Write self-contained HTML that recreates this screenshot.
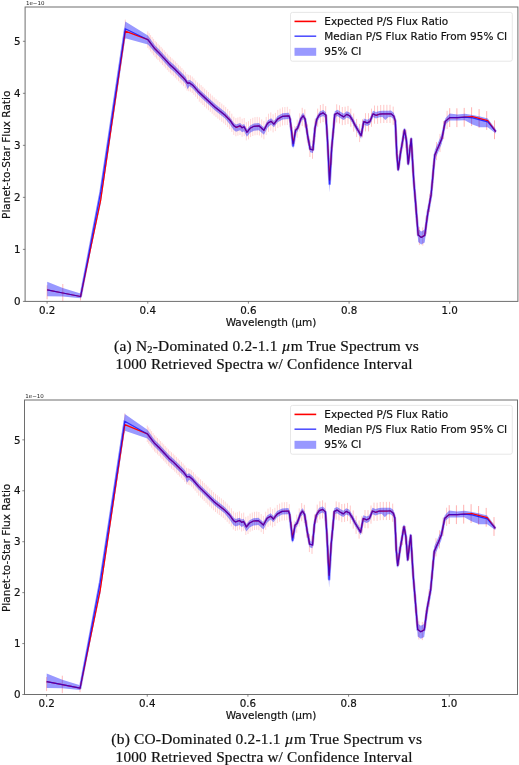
<!DOCTYPE html>
<html><head><meta charset="utf-8"><title>Figure</title>
<style>
html,body{margin:0;padding:0;background:#fff}
svg{display:block}
.tk{stroke:#111;stroke-width:0.18px;font:10.3px "DejaVu Sans",sans-serif;fill:#111}
.lb{stroke:#111;stroke-width:0.18px;font:10.5px "DejaVu Sans",sans-serif;fill:#111}
.lg{stroke:#111;stroke-width:0.18px;font:10.48px "DejaVu Sans",sans-serif;fill:#111}
.off{font:5.5px "DejaVu Sans",sans-serif;fill:#222}
.cap{font:14px "Liberation Serif",serif;fill:#111;letter-spacing:0.2px;word-spacing:0px;stroke:#111;stroke-width:0.2px}
</style></head><body>
<svg width="519" height="765" viewBox="0 0 519 765">
<rect width="519" height="765" fill="#fff"/>
<clipPath id="c1"><rect x="25.1" y="7.0" width="492.79999999999995" height="294.4"/></clipPath>
<g clip-path="url(#c1)" transform="translate(0.1,0)">
<path d="M47.0 285.3V299.3M62.7 284.0V301.5M80.4 294.0V300.5" stroke="#ff0000" stroke-opacity="0.3" stroke-width="0.9" fill="none"/>
<path d="M100.6 195.8V203.8M125.2 19.6V39.1M147.7 31.4V47.8M149.1 33.2V49.6M150.5 35.1V51.5M152.0 37.0V53.4M153.5 38.9V55.3M155.0 40.8V57.2M156.4 42.2V58.6M157.9 43.7V60.1M159.5 45.3V61.7M161.0 46.9V63.3M162.5 48.6V65.0M164.1 50.2V66.6M165.6 51.9V68.3M167.2 53.7V70.1M168.8 55.4V71.8M170.3 56.9V73.3M171.9 58.4V74.8M173.6 59.8V76.2M175.2 61.4V77.8M176.8 63.1V79.5M178.5 64.8V81.2M180.1 66.4V82.8M181.8 68.1V84.5M183.5 69.8V86.2M185.2 71.8V88.2M186.9 74.2V90.6M188.6 74.8V91.2M190.3 75.3V91.7M192.1 76.6V93.0M193.8 78.4V94.8M195.6 80.4V96.8M197.4 82.4V98.8M199.2 83.5V101.7M201.0 85.1V103.3M202.8 86.8V105.0M204.6 88.6V106.8M206.5 90.3V108.5M208.3 92.0V110.2M210.2 93.7V111.9M212.1 95.5V113.7M214.0 97.3V115.5M215.9 98.9V117.1M217.8 100.5V118.7M219.7 102.0V120.2M221.7 103.6V121.8M223.7 105.2V123.4M225.6 106.9V125.1M227.6 108.9V127.1M229.6 110.9V129.1M231.7 113.7V131.9M233.7 116.7V134.9M235.8 118.1V136.3M237.8 117.5V135.7M239.9 116.8V135.0M242.0 118.7V136.9M244.1 118.0V136.2M246.2 122.2V140.4M248.4 121.2V139.4M250.5 118.9V137.1M252.7 117.8V136.0M254.9 117.1V135.3M257.1 116.9V135.1M259.3 117.3V135.5M261.6 119.3V137.5M263.8 121.1V139.3M266.1 116.9V135.1M268.4 113.7V131.9M270.7 112.4V130.6M273.0 114.2V132.4M275.3 112.9V131.1M277.7 109.9V128.1M280.0 108.6V126.8M282.4 107.3V125.5M284.8 107.0V125.2M287.2 106.8V125.0M289.7 109.1V127.3M292.1 127.2V145.4M294.6 125.9V144.1M297.1 119.6V137.8M299.6 113.3V131.5" stroke="#ff0000" stroke-opacity="0.2" stroke-width="0.85" fill="none"/>
<path d="M302.1 107.8V126.0M304.7 109.4V127.6M307.2 124.4V142.6M309.8 138.8V157.0M312.4 140.6V158.8M315.0 118.7V136.9M317.6 108.6V126.8M320.3 105.0V123.2M323.0 103.9V122.1M325.6 106.1V124.3M328.4 149.4V167.6M331.1 146.8V165.0M333.8 114.7V132.9M336.6 104.3V122.5M339.4 105.3V123.5M342.2 107.0V125.2M345.0 106.7V124.9M347.9 105.9V124.1M350.7 108.6V126.8M353.6 113.5V131.7M356.5 118.9V137.1M359.5 123.9V142.1M362.4 119.2V137.4M365.4 113.2V131.4M368.4 113.2V131.4M371.4 108.6V126.8M374.4 105.5V123.7M377.5 105.7V123.9M380.6 105.0V123.2M383.7 104.8V123.0M386.8 104.8V123.0M389.9 104.8V123.0M393.1 106.6V124.8M396.3 136.2V154.4M399.5 150.6V168.8M402.8 130.4V148.6M406.0 129.7V147.9M409.3 144.7V162.9M412.6 154.4V172.6M415.9 199.4V217.6M419.3 226.9V245.1M422.7 227.4V245.6M426.1 215.6V233.8M429.5 193.9V212.1M432.9 164.8V183.0M436.4 142.0V160.2M439.9 133.9V152.1M443.5 121.0V139.2M447.0 110.8V129.0" stroke="#ff0000" stroke-opacity="0.25" stroke-width="0.9" fill="none"/>
<path d="M449.6 108.2V127.0M456.8 108.3V127.1M464.1 107.9V126.7M471.5 107.3V126.1M479.0 109.1V127.9M486.6 111.1V129.9M494.4 120.4V139.2" stroke="#ff0000" stroke-opacity="0.33" stroke-width="0.95" fill="none"/>
<g opacity="0.4"><polygon points="47.1,281.8 62.7,288.0 80.5,293.5 100.6,185.9 125.2,21.5 147.8,35.5 154.8,45.3 159.6,50.1 164.5,55.4 169.3,60.7 174.1,65.0 178.9,69.9 183.7,74.7 185.7,77.1 187.4,80.7 189.5,79.7 192.6,82.0 198.9,89.1 205.0,94.8 215.0,104.1 225.0,112.1 230.0,117.5 233.8,123.0 236.0,124.5 240.0,123.0 242.0,125.0 244.0,124.0 246.8,129.5 250.0,125.5 253.8,123.5 258.8,123.0 263.8,127.5 267.5,120.5 271.0,118.3 273.8,121.1 277.5,116.1 282.5,113.3 288.8,112.8 290.0,116.1 293.0,142.8 295.5,127.3 297.5,125.3 301.0,115.3 303.0,112.8 305.0,116.1 307.5,132.3 310.0,146.1 312.9,146.8 314.8,125.8 316.7,116.2 319.6,111.4 323.1,109.9 325.8,112.3 327.3,136.5 329.5,182.0 331.6,144.9 334.7,111.2 337.4,109.8 340.8,112.1 343.7,113.7 346.6,111.2 349.5,112.5 352.4,117.0 355.3,122.7 358.2,127.6 361.0,132.4 363.7,118.4 367.1,119.7 369.8,118.4 372.9,110.7 375.9,112.1 379.4,111.0 382.3,110.7 385.2,110.7 388.1,110.7 390.9,110.6 393.8,113.1 395.2,118.6 396.7,151.4 398.1,167.1 400.6,149.5 404.4,127.4 406.3,137.8 408.1,161.3 411.1,136.3 413.6,177.4 418.1,229.1 421.2,231.4 424.6,229.4 427.8,209.3 431.0,191.9 434.7,150.0 438.5,141.3 441.7,133.8 445.2,118.4 449.6,113.6 457.5,114.4 464.7,113.8 472.4,114.9 479.9,116.5 487.6,118.5 495.7,129.3 495.7,133.4 487.6,127.3 479.9,127.3 472.4,124.6 464.7,120.3 457.5,120.5 449.6,120.4 445.2,124.4 441.7,143.8 438.5,151.3 434.7,160.0 431.0,200.9 427.8,218.3 424.6,242.4 421.2,244.4 418.1,242.1 413.6,182.9 411.1,141.8 408.1,166.8 406.3,143.3 404.4,132.9 400.6,155.0 398.1,172.6 396.7,156.9 395.2,124.1 393.8,119.6 390.9,117.1 388.1,117.2 385.2,120.1 382.3,117.0 379.4,117.3 375.9,118.4 372.9,117.0 369.8,124.7 367.1,126.0 363.7,124.7 361.0,138.7 358.2,133.9 355.3,129.0 352.4,123.3 349.5,118.8 346.6,117.5 343.7,120.0 340.8,118.4 337.4,116.1 334.7,117.5 331.6,151.2 329.5,192.5 327.3,147.0 325.8,118.5 323.1,116.1 319.6,117.6 316.7,122.4 314.8,132.0 312.9,153.0 310.0,152.3 307.5,138.5 305.0,122.3 303.0,119.0 301.0,121.5 297.5,131.5 295.5,133.5 293.0,149.0 290.0,122.3 288.8,119.0 282.5,119.5 277.5,122.3 273.8,127.3 271.0,124.5 267.5,127.8 263.8,134.8 258.8,130.3 253.8,130.8 250.0,132.8 246.8,136.8 244.0,131.3 242.0,132.3 240.0,130.3 236.0,131.8 233.8,130.3 230.0,124.8 225.0,118.5 215.0,110.5 205.0,101.2 198.9,95.5 192.6,88.4 189.5,86.1 187.4,89.2 185.7,84.1 183.7,81.7 178.9,76.9 174.1,72.0 169.3,67.7 164.5,62.4 159.6,57.1 154.8,52.3 147.8,44.4 125.2,38.3 100.6,203.9 80.5,298.2 62.7,296.5 47.1,296.3" fill="#0000ff"/><polyline points="47.1,289.8 62.7,293.0 80.5,296.5 100.6,191.9 125.2,28.8 147.8,39.7 154.8,48.8 159.6,53.6 164.5,58.9 169.3,64.2 174.1,68.5 178.9,73.4 183.7,78.2 185.7,80.6 187.4,83.2 189.5,82.9 192.6,85.2 198.9,92.3 205.0,98.0 215.0,107.3 225.0,115.3 230.0,120.3 233.8,125.8 236.0,127.3 240.0,125.8 242.0,127.8 244.0,126.8 246.8,132.3 250.0,128.3 253.8,126.3 258.8,125.8 263.8,130.3 267.5,123.3 271.0,121.3 273.8,124.1 277.5,119.1 282.5,116.3 288.8,115.8 290.0,119.1 293.0,145.8 295.5,130.3 297.5,128.3 301.0,118.3 303.0,115.8 305.0,119.1 307.5,135.3 310.0,149.1 312.9,149.8 314.8,128.8 316.7,119.2 319.6,114.4 323.1,112.9 325.8,115.3 327.3,138.5 329.5,184.0 331.6,148.1 334.7,114.4 337.4,113.0 340.8,115.3 343.7,116.9 346.6,114.4 349.5,115.7 352.4,120.2 355.3,125.9 358.2,130.8 361.0,135.6 363.7,121.6 367.1,122.9 369.8,121.6 372.9,113.9 375.9,115.3 379.4,114.2 382.3,113.9 385.2,113.9 388.1,113.9 390.9,113.8 393.8,116.3 395.2,121.1 396.7,153.9 398.1,169.6 400.6,152.0 404.4,129.9 406.3,140.3 408.1,163.8 411.1,138.8 413.6,179.9 418.1,235.1 421.2,237.4 424.6,235.4 427.8,212.3 431.0,194.9 434.7,155.0 438.5,146.3 441.7,138.8 445.2,121.4 449.6,117.6 457.5,117.7 464.7,117.2 472.4,117.8 479.9,119.9 487.6,121.9 495.7,131.6" fill="none" stroke="#0000ff" stroke-width="2.7" stroke-linejoin="round"/></g>
<polyline points="47.1,289.8 62.7,293.0 80.5,296.5 100.6,199.9 125.2,31.1 147.8,39.7 154.8,48.8 159.6,53.6 164.5,58.9 169.3,64.2 174.1,68.5 178.9,73.4 183.7,78.2 185.7,80.6 187.4,83.2 189.5,82.9 192.6,85.2 198.9,92.3 205.0,98.0 215.0,107.3 225.0,115.3 230.0,120.3 233.8,125.8 236.0,127.3 240.0,125.8 242.0,127.8 244.0,126.8 246.8,132.3 250.0,128.3 253.8,126.3 258.8,125.8 263.8,130.3 267.5,123.3 271.0,121.3 273.8,124.1 277.5,119.1 282.5,116.3 288.8,115.8 290.0,119.1 293.0,143.3 295.5,130.3 297.5,128.3 301.0,118.3 303.0,115.8 305.0,119.1 307.5,135.3 310.0,149.1 312.9,149.8 314.8,128.8 316.7,119.2 319.6,114.4 323.1,112.9 325.8,115.3 327.3,138.5 329.5,180.0 331.6,148.1 334.7,114.4 337.4,113.0 340.8,115.3 343.7,116.9 346.6,114.4 349.5,115.7 352.4,120.2 355.3,125.9 358.2,130.8 361.0,135.6 363.7,121.6 367.1,122.9 369.8,121.6 372.9,113.9 375.9,115.3 379.4,114.2 382.3,113.9 385.2,113.9 388.1,113.9 390.9,113.8 393.8,116.3 395.2,121.1 396.7,153.9 398.1,169.6 400.6,152.0 404.4,129.9 406.3,140.3 408.1,163.8 411.1,138.8 413.6,179.9 418.1,235.1 421.2,237.4 424.6,235.4 427.8,212.3 431.0,194.9 434.7,155.0 438.5,146.3 441.7,138.8 445.2,121.4 449.6,117.6 457.5,117.7 464.7,117.2 472.4,116.6 479.9,118.7 487.6,120.7 495.7,131.6" fill="none" stroke="#ff0000" stroke-width="1.25" stroke-linejoin="round"/>
<polyline points="47.1,289.8 62.7,293.0 80.5,296.5 100.6,191.9 125.2,28.8 147.8,39.7 154.8,48.8 159.6,53.6 164.5,58.9 169.3,64.2 174.1,68.5 178.9,73.4 183.7,78.2 185.7,80.6 187.4,83.2 189.5,82.9 192.6,85.2 198.9,92.3 205.0,98.0 215.0,107.3 225.0,115.3 230.0,120.3 233.8,125.8 236.0,127.3 240.0,125.8 242.0,127.8 244.0,126.8 246.8,132.3 250.0,128.3 253.8,126.3 258.8,125.8 263.8,130.3 267.5,123.3 271.0,121.3 273.8,124.1 277.5,119.1 282.5,116.3 288.8,115.8 290.0,119.1 293.0,145.8 295.5,130.3 297.5,128.3 301.0,118.3 303.0,115.8 305.0,119.1 307.5,135.3 310.0,149.1 312.9,149.8 314.8,128.8 316.7,119.2 319.6,114.4 323.1,112.9 325.8,115.3 327.3,138.5 329.5,184.0 331.6,148.1 334.7,114.4 337.4,113.0 340.8,115.3 343.7,116.9 346.6,114.4 349.5,115.7 352.4,120.2 355.3,125.9 358.2,130.8 361.0,135.6 363.7,121.6 367.1,122.9 369.8,121.6 372.9,113.9 375.9,115.3 379.4,114.2 382.3,113.9 385.2,113.9 388.1,113.9 390.9,113.8 393.8,116.3 395.2,121.1 396.7,153.9 398.1,169.6 400.6,152.0 404.4,129.9 406.3,140.3 408.1,163.8 411.1,138.8 413.6,179.9 418.1,235.1 421.2,237.4 424.6,235.4 427.8,212.3 431.0,194.9 434.7,155.0 438.5,146.3 441.7,138.8 445.2,121.4 449.6,117.6 457.5,117.7 464.7,117.2 472.4,117.8 479.9,119.9 487.6,121.9 495.7,131.6" fill="none" stroke="#0000ff" stroke-opacity="0.72" stroke-width="1.2" stroke-linejoin="round"/>
</g>
<rect x="25.1" y="7.0" width="492.79999999999995" height="294.4" fill="none" stroke="#6e6e6e" stroke-width="1"/>
<path d="M25.1 301.40h-2.2M25.1 249.38h-2.2M25.1 197.36h-2.2M25.1 145.34h-2.2M25.1 93.32h-2.2M25.1 41.30h-2.2M47.10 301.4v2.2M147.76 301.4v2.2M248.42 301.4v2.2M349.08 301.4v2.2M449.74 301.4v2.2" stroke="#555" stroke-width="0.7" fill="none"/>
<text x="20.6" y="305.10" text-anchor="end" class="tk">0</text>
<text x="20.6" y="253.08" text-anchor="end" class="tk">1</text>
<text x="20.6" y="201.06" text-anchor="end" class="tk">2</text>
<text x="20.6" y="149.04" text-anchor="end" class="tk">3</text>
<text x="20.6" y="97.02" text-anchor="end" class="tk">4</text>
<text x="20.6" y="45.00" text-anchor="end" class="tk">5</text>
<text x="47.10" y="314.00" text-anchor="middle" class="tk">0.2</text>
<text x="147.76" y="314.00" text-anchor="middle" class="tk">0.4</text>
<text x="248.42" y="314.00" text-anchor="middle" class="tk">0.6</text>
<text x="349.08" y="314.00" text-anchor="middle" class="tk">0.8</text>
<text x="449.74" y="314.00" text-anchor="middle" class="tk">1.0</text>
<text x="25.9" y="5.00" class="off">1e−10</text>
<text x="271" y="326.00" text-anchor="middle" class="lb">Wavelength (µm)</text>
<text transform="translate(10.0,154.80) rotate(-90)" text-anchor="middle" class="lb">Planet-to-Star Flux Ratio</text>
<rect x="290.5" y="12.40" width="221.8" height="48.8" rx="2" fill="#fff" fill-opacity="0.8" stroke="#dcdcdc" stroke-width="0.7"/>
<path d="M294.5 21.40H316.2" stroke="#ff0000" stroke-width="1.6"/>
<path d="M294.5 36.20H316.2" stroke="#0000ff" stroke-opacity="0.72" stroke-width="1.5"/>
<rect x="294.5" y="47.80" width="21.7" height="8" fill="#0000ff" fill-opacity="0.4"/>
<text x="324.3" y="25.10" class="lg">Expected P/S Flux Ratio</text>
<text x="324.3" y="40.00" class="lg">Median P/S Flux Ratio From 95% CI</text>
<text x="324.3" y="54.90" class="lg">95% CI</text>
<clipPath id="c2"><rect x="24.5" y="400.0" width="493.0" height="294.5"/></clipPath>
<g clip-path="url(#c2)" transform="translate(-0.4,0)">
<path d="M47.0 677.1V691.1M62.7 675.7V693.2M80.4 685.7V692.2" stroke="#ff0000" stroke-opacity="0.3" stroke-width="0.9" fill="none"/>
<path d="M100.6 586.2V594.2M125.2 413.2V432.7M147.7 425.6V442.0M149.1 427.4V443.8M150.5 429.3V445.7M152.0 431.2V447.6M153.5 433.2V449.6M155.0 435.1V451.5M156.4 436.5V452.9M157.9 438.0V454.4M159.5 439.5V455.9M161.0 441.1V457.5M162.5 442.7V459.1M164.1 444.3V460.7M165.6 446.0V462.4M167.2 447.7V464.1M168.8 449.4V465.8M170.3 450.9V467.3M171.9 452.3V468.7M173.6 453.7V470.1M175.2 455.3V471.7M176.8 456.9V473.3M178.5 458.6V475.0M180.1 460.2V476.6M181.8 461.8V478.2M183.5 463.5V479.9M185.2 465.4V481.8M186.9 467.8V484.2M188.6 468.4V484.8M190.3 469.0V485.4M192.1 470.3V486.7M193.8 472.2V488.6M195.6 474.3V490.7M197.4 476.4V492.8M199.2 477.5V495.7M201.0 479.3V497.5M202.8 481.1V499.3M204.6 482.9V501.1M206.5 484.7V502.9M208.3 486.5V504.7M210.2 488.4V506.6M212.1 490.2V508.4M214.0 492.1V510.3M215.9 493.8V512.0M217.8 495.3V513.5M219.7 496.8V515.0M221.7 498.4V516.6M223.7 499.9V518.1M225.6 501.6V519.8M227.6 503.6V521.8M229.6 505.6V523.8M231.7 508.3V526.5M233.7 511.3V529.5M235.8 512.7V530.9M237.8 512.2V530.4M239.9 511.4V529.6M242.0 513.3V531.5M244.1 512.6V530.8M246.2 516.8V535.0M248.4 515.8V534.0M250.5 513.6V531.8M252.7 512.5V530.7M254.9 511.8V530.0M257.1 511.6V529.8M259.3 512.0V530.2M261.6 514.0V532.2M263.8 515.8V534.0M266.1 511.7V529.9M268.4 508.6V526.8M270.7 507.3V525.5M273.0 509.1V527.3M275.3 507.8V526.0M277.7 504.9V523.1M280.0 503.6V521.8M282.4 502.4V520.6M284.8 502.2V520.4M287.2 502.0V520.2M289.7 504.2V522.4M292.1 521.9V540.1M294.6 520.7V538.9M297.1 514.6V532.8M299.6 508.4V526.6" stroke="#ff0000" stroke-opacity="0.2" stroke-width="0.85" fill="none"/>
<path d="M302.1 503.1V521.3M304.7 504.8V523.0M307.2 519.6V537.8M309.8 533.9V552.1M312.4 535.7V553.9M315.0 514.4V532.6M317.6 504.6V522.8M320.3 501.3V519.5M323.0 500.3V518.5M325.6 502.6V520.8M328.4 545.1V563.3M331.1 542.8V561.0M333.8 511.5V529.7M336.6 501.4V519.6M339.4 502.3V520.5M342.2 504.0V522.2M345.0 503.7V521.9M347.9 502.9V521.1M350.7 505.5V523.7M353.6 510.4V528.6M356.5 515.7V533.9M359.5 520.5V538.7M362.4 515.9V534.1M365.4 510.0V528.2M368.4 510.1V528.3M371.4 505.5V523.7M374.4 502.6V520.8M377.5 502.7V520.9M380.6 502.0V520.2M383.7 501.9V520.1M386.8 501.9V520.1M389.9 501.8V520.0M393.1 503.6V521.8M396.3 532.6V550.8M399.5 546.6V564.8M402.8 526.9V545.1M406.0 526.2V544.4M409.3 540.9V559.1M412.6 550.4V568.6M415.9 594.5V612.7M419.3 621.3V639.5M422.7 621.9V640.1M426.1 610.4V628.6M429.5 589.1V607.3M432.9 560.6V578.8M436.4 538.2V556.4M439.9 530.3V548.5M443.5 517.7V535.9M447.0 507.7V525.9" stroke="#ff0000" stroke-opacity="0.25" stroke-width="0.9" fill="none"/>
<path d="M449.6 505.2V524.0M456.8 505.3V524.1M464.1 504.8V523.6M471.5 504.2V523.0M479.0 506.0V524.8M486.6 507.9V526.7M494.4 517.1V535.9" stroke="#ff0000" stroke-opacity="0.33" stroke-width="0.95" fill="none"/>
<g opacity="0.4"><polygon points="47.1,673.6 62.7,679.7 80.5,685.2 100.6,576.2 125.2,413.9 147.8,429.7 154.8,439.6 159.6,444.3 164.5,449.5 169.3,454.7 174.1,458.9 178.9,463.7 183.7,468.4 185.7,470.8 187.4,474.3 189.5,473.3 192.6,475.8 198.9,483.2 205.0,489.2 215.0,499.0 225.0,506.9 230.0,512.2 233.8,517.6 236.0,519.1 240.0,517.7 242.0,519.6 244.0,518.7 246.8,524.1 250.0,520.2 253.8,518.2 258.8,517.8 263.8,522.2 267.5,515.4 271.0,513.2 273.8,516.0 277.5,511.1 282.5,508.4 288.8,508.0 290.0,511.2 293.0,537.4 295.5,522.2 297.5,520.3 301.0,510.5 303.0,508.2 305.0,511.5 307.5,527.5 310.0,541.1 312.9,542.0 314.8,521.5 316.7,512.2 319.6,507.7 323.1,506.4 325.8,508.9 327.3,532.7 329.5,577.3 331.6,541.1 334.7,508.2 337.4,506.9 340.8,509.1 343.7,510.7 346.6,508.2 349.5,509.5 352.4,513.9 355.3,519.5 358.2,524.3 361.0,529.0 363.7,515.3 367.1,516.6 369.8,515.3 372.9,507.8 375.9,509.1 379.4,508.0 382.3,507.8 385.2,507.8 388.1,507.8 390.9,507.7 393.8,510.1 395.2,515.5 396.7,547.6 398.1,563.0 400.6,545.8 404.4,524.1 406.3,534.3 408.1,557.3 411.1,532.8 413.6,573.0 418.1,623.6 421.2,625.8 424.6,623.9 427.8,604.2 431.0,587.2 434.7,546.2 438.5,537.7 441.7,530.3 445.2,515.3 449.6,510.6 457.5,511.4 464.7,510.8 472.4,511.9 479.9,513.4 487.6,515.4 495.7,526.0 495.7,530.1 487.6,524.2 479.9,524.2 472.4,521.6 464.7,517.3 457.5,517.5 449.6,517.4 445.2,521.3 441.7,540.3 438.5,547.7 434.7,556.2 431.0,596.2 427.8,613.2 424.6,636.9 421.2,638.8 418.1,636.6 413.6,578.5 411.1,538.3 408.1,562.8 406.3,539.8 404.4,529.6 400.6,551.3 398.1,568.5 396.7,553.1 395.2,521.0 393.8,516.6 390.9,514.2 388.1,514.3 385.2,517.2 382.3,514.1 379.4,514.3 375.9,515.4 372.9,514.1 369.8,521.6 367.1,522.9 363.7,521.6 361.0,535.3 358.2,530.6 355.3,525.8 352.4,520.2 349.5,515.8 346.6,514.5 343.7,517.0 340.8,515.4 337.4,513.2 334.7,514.5 331.6,547.4 329.5,587.8 327.3,543.2 325.8,515.1 323.1,512.6 319.6,513.9 316.7,518.4 314.8,527.7 312.9,548.2 310.0,547.3 307.5,533.7 305.0,517.7 303.0,514.4 301.0,516.7 297.5,526.5 295.5,528.4 293.0,543.6 290.0,517.4 288.8,514.2 282.5,514.6 277.5,517.3 273.8,522.2 271.0,519.4 267.5,522.7 263.8,529.5 258.8,525.1 253.8,525.5 250.0,527.5 246.8,531.4 244.0,526.0 242.0,526.9 240.0,525.0 236.0,526.4 233.8,524.9 230.0,519.5 225.0,513.3 215.0,505.4 205.0,495.6 198.9,489.6 192.6,482.2 189.5,479.7 187.4,482.8 185.7,477.8 183.7,475.4 178.9,470.7 174.1,465.9 169.3,461.7 164.5,456.5 159.6,451.3 154.8,446.6 147.8,438.6 125.2,430.7 100.6,594.2 80.5,689.9 62.7,688.2 47.1,688.1" fill="#0000ff"/><polyline points="47.1,681.6 62.7,684.7 80.5,688.2 100.6,582.2 125.2,421.2 147.8,433.9 154.8,443.1 159.6,447.8 164.5,453.0 169.3,458.2 174.1,462.4 178.9,467.2 183.7,471.9 185.7,474.3 187.4,476.8 189.5,476.5 192.6,479.0 198.9,486.4 205.0,492.4 215.0,502.2 225.0,510.1 230.0,515.0 233.8,520.4 236.0,521.9 240.0,520.5 242.0,522.4 244.0,521.5 246.8,526.9 250.0,523.0 253.8,521.0 258.8,520.6 263.8,525.0 267.5,518.2 271.0,516.2 273.8,519.0 277.5,514.1 282.5,511.4 288.8,511.0 290.0,514.2 293.0,540.4 295.5,525.2 297.5,523.3 301.0,513.5 303.0,511.2 305.0,514.5 307.5,530.5 310.0,544.1 312.9,545.0 314.8,524.5 316.7,515.2 319.6,510.7 323.1,509.4 325.8,511.9 327.3,534.7 329.5,579.3 331.6,544.3 334.7,511.4 337.4,510.1 340.8,512.3 343.7,513.9 346.6,511.4 349.5,512.7 352.4,517.1 355.3,522.7 358.2,527.5 361.0,532.2 363.7,518.5 367.1,519.8 369.8,518.5 372.9,511.0 375.9,512.3 379.4,511.2 382.3,511.0 385.2,511.0 388.1,511.0 390.9,510.9 393.8,513.3 395.2,518.0 396.7,550.1 398.1,565.5 400.6,548.3 404.4,526.6 406.3,536.8 408.1,559.8 411.1,535.3 413.6,575.5 418.1,629.6 421.2,631.8 424.6,629.9 427.8,607.2 431.0,590.2 434.7,551.2 438.5,542.7 441.7,535.3 445.2,518.3 449.6,514.6 457.5,514.7 464.7,514.2 472.4,514.8 479.9,516.8 487.6,518.8 495.7,528.3" fill="none" stroke="#0000ff" stroke-width="2.7" stroke-linejoin="round"/></g>
<polyline points="47.1,681.6 62.7,684.7 80.5,688.2 100.6,590.2 125.2,424.7 147.8,433.9 154.8,443.1 159.6,447.8 164.5,453.0 169.3,458.2 174.1,462.4 178.9,467.2 183.7,471.9 185.7,474.3 187.4,476.8 189.5,476.5 192.6,479.0 198.9,486.4 205.0,492.4 215.0,502.2 225.0,510.1 230.0,515.0 233.8,520.4 236.0,521.9 240.0,520.5 242.0,522.4 244.0,521.5 246.8,526.9 250.0,523.0 253.8,521.0 258.8,520.6 263.8,525.0 267.5,518.2 271.0,516.2 273.8,519.0 277.5,514.1 282.5,511.4 288.8,511.0 290.0,514.2 293.0,537.9 295.5,525.2 297.5,523.3 301.0,513.5 303.0,511.2 305.0,514.5 307.5,530.5 310.0,544.1 312.9,545.0 314.8,524.5 316.7,515.2 319.6,510.7 323.1,509.4 325.8,511.9 327.3,534.7 329.5,575.3 331.6,544.3 334.7,511.4 337.4,510.1 340.8,512.3 343.7,513.9 346.6,511.4 349.5,512.7 352.4,517.1 355.3,522.7 358.2,527.5 361.0,532.2 363.7,518.5 367.1,519.8 369.8,518.5 372.9,511.0 375.9,512.3 379.4,511.2 382.3,511.0 385.2,511.0 388.1,511.0 390.9,510.9 393.8,513.3 395.2,518.0 396.7,550.1 398.1,565.5 400.6,548.3 404.4,526.6 406.3,536.8 408.1,559.8 411.1,535.3 413.6,575.5 418.1,629.6 421.2,631.8 424.6,629.9 427.8,607.2 431.0,590.2 434.7,551.2 438.5,542.7 441.7,535.3 445.2,518.3 449.6,514.6 457.5,514.7 464.7,514.2 472.4,513.6 479.9,515.6 487.6,517.6 495.7,528.3" fill="none" stroke="#ff0000" stroke-width="1.25" stroke-linejoin="round"/>
<polyline points="47.1,681.6 62.7,684.7 80.5,688.2 100.6,582.2 125.2,421.2 147.8,433.9 154.8,443.1 159.6,447.8 164.5,453.0 169.3,458.2 174.1,462.4 178.9,467.2 183.7,471.9 185.7,474.3 187.4,476.8 189.5,476.5 192.6,479.0 198.9,486.4 205.0,492.4 215.0,502.2 225.0,510.1 230.0,515.0 233.8,520.4 236.0,521.9 240.0,520.5 242.0,522.4 244.0,521.5 246.8,526.9 250.0,523.0 253.8,521.0 258.8,520.6 263.8,525.0 267.5,518.2 271.0,516.2 273.8,519.0 277.5,514.1 282.5,511.4 288.8,511.0 290.0,514.2 293.0,540.4 295.5,525.2 297.5,523.3 301.0,513.5 303.0,511.2 305.0,514.5 307.5,530.5 310.0,544.1 312.9,545.0 314.8,524.5 316.7,515.2 319.6,510.7 323.1,509.4 325.8,511.9 327.3,534.7 329.5,579.3 331.6,544.3 334.7,511.4 337.4,510.1 340.8,512.3 343.7,513.9 346.6,511.4 349.5,512.7 352.4,517.1 355.3,522.7 358.2,527.5 361.0,532.2 363.7,518.5 367.1,519.8 369.8,518.5 372.9,511.0 375.9,512.3 379.4,511.2 382.3,511.0 385.2,511.0 388.1,511.0 390.9,510.9 393.8,513.3 395.2,518.0 396.7,550.1 398.1,565.5 400.6,548.3 404.4,526.6 406.3,536.8 408.1,559.8 411.1,535.3 413.6,575.5 418.1,629.6 421.2,631.8 424.6,629.9 427.8,607.2 431.0,590.2 434.7,551.2 438.5,542.7 441.7,535.3 445.2,518.3 449.6,514.6 457.5,514.7 464.7,514.2 472.4,514.8 479.9,516.8 487.6,518.8 495.7,528.3" fill="none" stroke="#0000ff" stroke-opacity="0.72" stroke-width="1.2" stroke-linejoin="round"/>
</g>
<rect x="24.5" y="400.0" width="493.0" height="294.5" fill="none" stroke="#6e6e6e" stroke-width="1"/>
<path d="M24.5 694.50h-2.2M24.5 643.57h-2.2M24.5 592.64h-2.2M24.5 541.71h-2.2M24.5 490.78h-2.2M24.5 439.85h-2.2M46.60 694.5v2.2M147.26 694.5v2.2M247.92 694.5v2.2M348.58 694.5v2.2M449.24 694.5v2.2" stroke="#555" stroke-width="0.7" fill="none"/>
<text x="20.6" y="698.20" text-anchor="end" class="tk">0</text>
<text x="20.6" y="647.27" text-anchor="end" class="tk">1</text>
<text x="20.6" y="596.34" text-anchor="end" class="tk">2</text>
<text x="20.6" y="545.41" text-anchor="end" class="tk">3</text>
<text x="20.6" y="494.48" text-anchor="end" class="tk">4</text>
<text x="20.6" y="443.55" text-anchor="end" class="tk">5</text>
<text x="46.60" y="707.10" text-anchor="middle" class="tk">0.2</text>
<text x="147.26" y="707.10" text-anchor="middle" class="tk">0.4</text>
<text x="247.92" y="707.10" text-anchor="middle" class="tk">0.6</text>
<text x="348.58" y="707.10" text-anchor="middle" class="tk">0.8</text>
<text x="449.24" y="707.10" text-anchor="middle" class="tk">1.0</text>
<text x="25.3" y="398.00" class="off">1e−10</text>
<text x="271" y="719.10" text-anchor="middle" class="lb">Wavelength (µm)</text>
<text transform="translate(10.0,547.85) rotate(-90)" text-anchor="middle" class="lb">Planet-to-Star Flux Ratio</text>
<rect x="290.5" y="405.40" width="221.8" height="48.8" rx="2" fill="#fff" fill-opacity="0.8" stroke="#dcdcdc" stroke-width="0.7"/>
<path d="M294.5 414.40H316.2" stroke="#ff0000" stroke-width="1.6"/>
<path d="M294.5 429.20H316.2" stroke="#0000ff" stroke-opacity="0.72" stroke-width="1.5"/>
<rect x="294.5" y="440.80" width="21.7" height="8" fill="#0000ff" fill-opacity="0.4"/>
<text x="324.3" y="418.10" class="lg">Expected P/S Flux Ratio</text>
<text x="324.3" y="433.00" class="lg">Median P/S Flux Ratio From 95% CI</text>
<text x="324.3" y="447.90" class="lg">95% CI</text>
<g transform="translate(266.6,351.2) scale(1.10,1)"><text x="0" y="0" text-anchor="middle" class="cap" id="cap1a">(a) N<tspan dy="2.2" font-size="9.5">2</tspan><tspan dy="-2.2">-Dominated 0.2-1.1 </tspan><tspan font-style="italic">µ</tspan>m True Spectrum vs</text></g>
<g transform="translate(264.1,368.5) scale(1.089,1)"><text x="0" y="0" text-anchor="middle" class="cap" id="cap1b">1000 Retrieved Spectra w/ Confidence Interval</text></g>
<g transform="translate(266.8,744.4) scale(1.10,1)"><text x="0" y="0" text-anchor="middle" class="cap" id="cap2a">(b) CO-Dominated 0.2-1.1 <tspan font-style="italic">µ</tspan>m True Spectrum vs</text></g>
<g transform="translate(264.1,762.0) scale(1.089,1)"><text x="0" y="0" text-anchor="middle" class="cap" id="cap2b">1000 Retrieved Spectra w/ Confidence Interval</text></g>
</svg>
</body></html>
